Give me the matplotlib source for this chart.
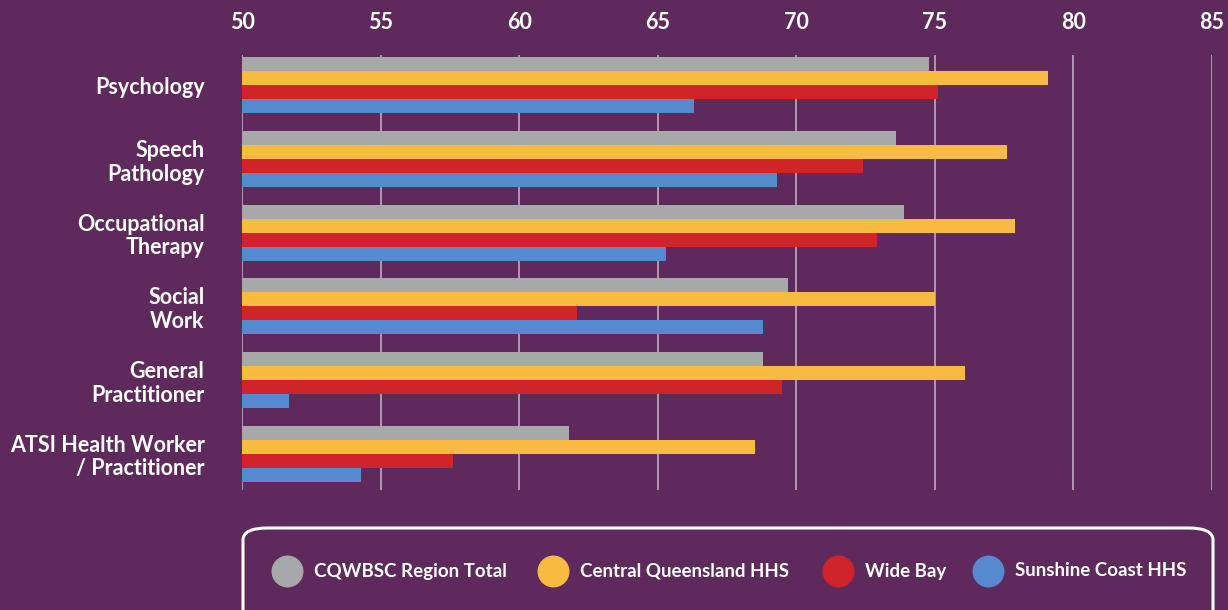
import numpy as np
import matplotlib.pyplot as plt
from matplotlib.patches import FancyBboxPatch
from matplotlib.lines import Line2D

plt.rcParams['font.family'] = ['Lato', 'DejaVu Sans']
plt.rcParams['font.weight'] = 'bold'

categories = ['Psychology', 'Speech\nPathology', 'Occupational\nTherapy',
              'Social\nWork', 'General\nPractitioner',
              'ATSI Health Worker\n/ Practitioner']
series = ['CQWBSC Region Total', 'Central Queensland HHS', 'Wide Bay',
          'Sunshine Coast HHS']
region_total = [74.8, 73.6, 73.9, 69.7, 68.8, 61.8]
central_qld = [79.1, 77.6, 77.9, 75.0, 76.1, 68.5]
wide_bay = [75.1, 72.4, 72.9, 62.1, 69.5, 57.6]
sunshine_coast = [66.3, 69.3, 65.3, 68.8, 51.7, 54.3]
xticks = [50, 55, 60, 65, 70, 75, 80, 85]

bg = '#5E2A5C'
colors = ['#A7A8AA', '#F8BB42', '#D0232A', '#5689CE']
values = [region_total, central_qld, wide_bay, sunshine_coast]

fig = plt.figure(figsize=(12.28, 6.10), dpi=100, facecolor=bg)
ax = fig.add_axes([242/1228, 1 - 490/610, (1212-242)/1228, (490-55)/610])
ax.set_facecolor(bg)

y = np.arange(len(categories))
h = 0.19
for i, (vals, c) in enumerate(zip(values, colors)):
    ax.barh(y + (i - 1.5) * h, np.array(vals) - 50, left=50, height=h,
            color=c, zorder=3)

ax.set_xlim(50, 85)
ax.set_ylim(5.49, -0.41)
ax.set_xticks(xticks)
ax.xaxis.tick_top()
ax.tick_params(axis='x', length=0, pad=16, labelsize=15.5, labelcolor='white')
ax.set_yticks(y)
ax.set_yticklabels(categories, fontsize=15.5, color='white', ha='right',
                   linespacing=1.15)
ax.tick_params(axis='y', length=0, pad=27)
for xv in xticks:
    ax.axvline(xv, color='#B8A0B8', lw=1.3, zorder=1)
for s in ax.spines.values():
    s.set_visible(False)

# legend box
box = FancyBboxPatch((243/1228, -0.05), (1213-243)/1228, (610-528)/610 + 0.05,
                     boxstyle='round,pad=0,rounding_size=0.02',
                     transform=fig.transFigure, facecolor='none',
                     edgecolor='white', lw=2.2)
fig.patches.append(box)
marker_x = [287, 553, 838, 988]
ly = 1 - 571/610
for mx, c, lab in zip(marker_x, colors, series):
    fig.add_artist(Line2D([mx/1228], [ly], marker='o', markersize=22,
                          color=c, transform=fig.transFigure))
    fig.text((mx + 27)/1228, ly, lab, color='white', fontsize=13.5,
             va='center', ha='left')

fig.savefig('out.png', dpi=100, facecolor=bg)
